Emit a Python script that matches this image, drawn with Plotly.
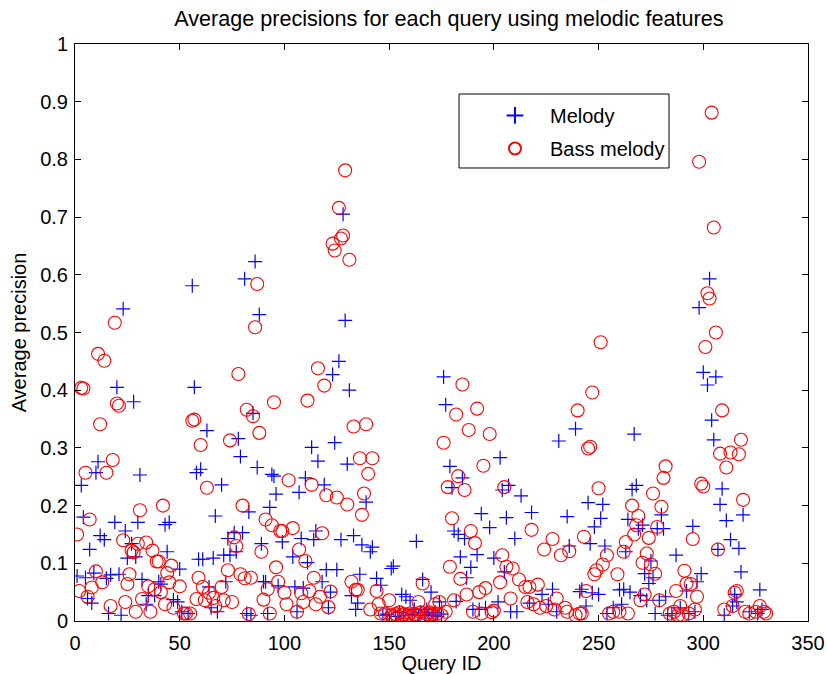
import plotly.graph_objects as go

# Melody (+): query ID -> average precision
melody_id = [1,3,4,5,6,7,8,9,10,11,12,14,15,16,17,19,20,21,22,23,24,25,27,28,29,30,31,32,34,35,38,40,41,43,44,45,47,49,50,51,54,
             56,57,58,59,60,61,63,64,65,66,67,68,70,71,72,73,74,76,77,78,79,80,81,82,83,84,85,86,87,88,89,90,
             91,92,93,94,95,96,97,99,104,105,106,107,108,109,110,111,113,114,115,116,118,119,120,121,122,123,124,125,126,127,128,129,130,131,
             132,133,134,135,136,137,139,141,142,144,146,147,149,151,152,153,155,156,157,158,160,161,162,163,164,165,166,167,168,169,170,171,172,173,174,175,
             176,177,179,180,181,182,183,184,185,186,187,189,190,192,193,194,196,198,200,202,203,204,205,206,207,208,210,211,213,217,218,223,226,228,230,231,235,236,239,
             241,242,244,245,246,247,248,250,251,252,253,254,257,260,261,262,263,264,265,266,267,268,269,270,271,272,273,274,275,276,277,278,279,280,281,282,283,285,287,289,292,293,295,296,297,298,299,
             300,302,303,304,305,306,307,308,309,310,311,313,314,315,316,317,318,319,322,326,327,328]
melody_ap = [0.078,0.235,0.18,0.075,0.039,0.124,0.031,0.083,0.257,0.276,0.148,0.141,0.074,0.013,0.08,0.171,0.405,0.081,0.01,0.541,0.156,0.109,0.134,0.38,0.111,0.171,0.253,0.072,0.029,0.044,0.044,0.068,0.064,0.167,0.12,0.171,0.037,0.033,0.09,0.016,0.013,
             0.581,0.405,0.257,0.107,0.263,0.107,0.33,0.059,0.023,0.109,0.182,0.016,0.236,0.114,0.068,0.143,0.114,0.153,0.12,0.316,0.285,0.153,0.593,0.013,0.189,0.01,0.36,0.623,0.266,0.531,0.134,0.068,
             0.068,0.013,0.197,0.254,0.251,0.22,0.061,0.137,0.111,0.059,0.016,0.223,0.143,0.057,0.248,0.101,0.301,0.141,0.156,0.277,0.068,0.236,0.089,0.023,0.05,0.427,0.309,0.089,0.45,0.141,0.705,0.521,0.272,0.4,
             0.044,0.148,0.02,0.031,0.081,0.132,0.206,0.12,0.128,0.074,0.062,0.01,0.012,0.091,0.095,0.008,0.015,0.046,0.01,0.042,0.036,0.012,0.02,0.138,0.01,0.015,0.072,0.01,0.02,0.012,0.05,0.01,0.015,0.008,0.033,0.012,
             0.423,0.375,0.268,0.231,0.156,0.034,0.15,0.111,0.248,0.143,0.075,0.093,0.02,0.115,0.02,0.186,0.023,0.162,0.109,0.033,0.283,0.227,0.085,0.179,0.235,0.016,0.143,0.016,0.217,0.031,0.188,0.046,0.029,0.055,0.016,0.312,0.181,0.13,0.333,
             0.051,0.055,0.026,0.205,0.134,0.049,0.163,0.046,0.178,0.202,0.13,0.013,0.023,0.054,0.029,0.055,0.12,0.176,0.05,0.228,0.324,0.235,0.16,0.044,0.166,0.082,0.036,0.065,0.104,0.075,0.013,0.16,0.036,0.184,0.16,0.042,0.01,0.013,0.114,0.023,0.052,0.013,0.164,0.016,0.068,0.543,0.082,
             0.431,0.409,0.593,0.348,0.314,0.423,0.124,0.202,0.229,0.01,0.174,0.141,0.026,0.046,0.033,0.126,0.085,0.184,0.016,0.013,0.054,0.02]

# Bass melody (o): query ID -> average precision
bass_id = [1,2,3,4,5,6,7,8,10,11,12,13,14,15,17,18,19,20,21,23,24,25,26,27,28,29,30,31,32,34,35,36,37,38,39,40,41,42,43,44,45,46,47,50,52,53,55,
           56,57,58,59,60,61,62,63,64,66,67,70,71,73,74,75,76,77,78,79,80,81,82,83,84,85,86,87,88,89,90,91,
           92,93,94,95,96,97,98,99,100,101,102,104,106,107,108,109,110,111,112,113,114,115,116,117,118,119,120,121,122,123,124,125,126,127,128,129,130,131,
           132,133,134,135,136,137,138,139,140,141,142,144,145,146,148,150,151,152,153,154,155,156,157,158,159,160,161,162,163,164,165,166,167,168,169,170,171,172,173,174,175,
           176,177,178,179,180,181,182,183,184,185,186,187,188,189,190,191,192,193,194,195,196,198,199,200,203,204,205,206,208,209,212,215,216,217,218,219,221,222,224,225,228,229,230,232,234,235,236,239,240,
           241,242,243,244,245,246,247,248,249,250,251,252,254,255,257,259,260,262,263,264,266,267,268,269,270,271,272,273,274,275,276,277,278,279,280,281,282,284,286,287,288,289,290,291,292,293,294,295,
           296,297,298,299,300,301,302,303,304,305,306,307,308,309,310,311,313,314,315,316,317,318,319,320,322,325,327,329,330]
bass_ap = [0.15,0.052,0.404,0.403,0.257,0.042,0.176,0.058,0.086,0.463,0.341,0.067,0.451,0.257,0.026,0.279,0.517,0.377,0.373,0.14,0.033,0.064,0.081,0.122,0.119,0.016,0.134,0.192,0.038,0.136,0.06,0.016,0.122,0.055,0.103,0.103,0.05,0.2,0.029,0.083,0.067,0.096,0.023,0.06,0.013,0.013,0.013,
           0.347,0.349,0.038,0.075,0.305,0.059,0.036,0.231,0.049,0.04,0.026,0.059,0.036,0.088,0.313,0.033,0.145,0.13,0.428,0.081,0.2,0.074,0.366,0.012,0.075,0.355,0.509,0.584,0.326,0.12,0.037,0.176,
           0.055,0.013,0.166,0.379,0.093,0.068,0.156,0.156,0.049,0.029,0.244,0.161,0.016,0.124,0.048,0.033,0.104,0.382,0.052,0.236,0.075,0.029,0.438,0.042,0.152,0.408,0.218,0.024,0.051,0.654,0.642,0.214,0.716,0.663,0.668,0.781,0.202,0.626,
           0.068,0.337,0.054,0.054,0.282,0.184,0.221,0.341,0.255,0.02,0.282,0.052,0.029,0.013,0.013,0.036,0.01,0.008,0.012,0.006,0.015,0.01,0.012,0.007,0.01,0.013,0.008,0.012,0.01,0.033,0.015,0.065,0.008,0.012,0.015,0.01,0.012,0.029,0.013,0.033,0.01,
           0.309,0.016,0.232,0.094,0.178,0.036,0.358,0.251,0.073,0.41,0.227,0.046,0.331,0.156,0.016,0.135,0.368,0.05,0.013,0.269,0.057,0.324,0.015,0.018,0.067,0.114,0.232,0.094,0.039,0.091,0.072,0.059,0.033,0.059,0.158,0.029,0.063,0.023,0.124,0.026,0.142,0.02,0.039,0.114,0.023,0.016,0.121,0.01,0.365,
           0.013,0.013,0.146,0.052,0.299,0.302,0.396,0.081,0.088,0.23,0.483,0.098,0.114,0.013,0.016,0.081,0.016,0.12,0.137,0.013,0.2,0.15,0.166,0.182,0.036,0.101,0.046,0.117,0.144,0.098,0.221,0.082,0.163,0.036,0.198,0.248,0.268,0.013,0.016,0.052,0.01,0.026,0.01,0.087,0.065,0.013,0.064,0.142,
           0.02,0.042,0.796,0.238,0.233,0.475,0.568,0.559,0.881,0.682,0.5,0.124,0.29,0.365,0.02,0.266,0.292,0.026,0.049,0.052,0.289,0.314,0.21,0.016,0.013,0.016,0.026,0.016,0.013]

x_ticks = [0, 50, 100, 150, 200, 250, 300, 350]
y_ticks = [0, 0.1, 0.2, 0.3, 0.4, 0.5, 0.6, 0.7, 0.8, 0.9, 1]
y_tick_text = ["0", "0.1", "0.2", "0.3", "0.4", "0.5", "0.6", "0.7", "0.8", "0.9", "1"]

FONT = "Liberation Sans, Arial, Helvetica, sans-serif"

fig = go.Figure()
fig.add_trace(go.Scatter(
    x=melody_id, y=melody_ap, mode="markers", name="Melody", legendgroup="m",
    marker=dict(symbol="cross-thin-open", size=10, color="#0000ff",
                line=dict(color="#0000ff", width=1.2)),
))
fig.add_trace(go.Scatter(
    x=bass_id, y=bass_ap, mode="markers", name="Bass melody", legendgroup="b",
    marker=dict(symbol="circle-open", size=13, color="#ff0000",
                line=dict(color="#ff0000", width=1.1)),
))

axis_common = dict(
    showline=True, linecolor="black", linewidth=1, mirror="allticks",
    ticks="inside", ticklen=6, tickcolor="black", tickwidth=1,
    showgrid=False, zeroline=False, automargin=False,
    tickfont=dict(family=FONT, size=20, color="black"),
)

fig.update_layout(
    width=827, height=674,
    margin=dict(l=75, r=19, t=44, b=53),
    paper_bgcolor="white", plot_bgcolor="white",
    title=dict(text="Average precisions for each query using melodic features",
               xref="paper", x=0.51, xanchor="center", yref="container", y=0.973, yanchor="middle",
               font=dict(family=FONT, size=21.6, color="black")),
    xaxis=dict(range=[0, 350], tickvals=x_ticks, ticklabelstandoff=4,
               title=dict(text="Query ID", font=dict(family=FONT, size=20, color="black"), standoff=6),
               **axis_common),
    yaxis=dict(range=[0, 1], tickvals=y_ticks, ticktext=y_tick_text, ticklabelstandoff=2,
               title=dict(text="Average precision", font=dict(family=FONT, size=20, color="black"), standoff=8),
               **axis_common),
    legend=dict(x=0.5525, y=0.910, xanchor="left", yanchor="top",
                bgcolor="rgba(0,0,0,0)", borderwidth=0,
                font=dict(family=FONT, size=20, color="black"),
                itemsizing="constant", itemwidth=60, tracegroupgap=4),
    shapes=[dict(type="rect", xref="paper", yref="paper",
                 x0=0.5239, x1=0.8104, y0=0.7851, y1=0.9133,
                 line=dict(color="black", width=1), fillcolor="white", layer="above")],
    showlegend=True,
)

fig.write_html("out.html")
